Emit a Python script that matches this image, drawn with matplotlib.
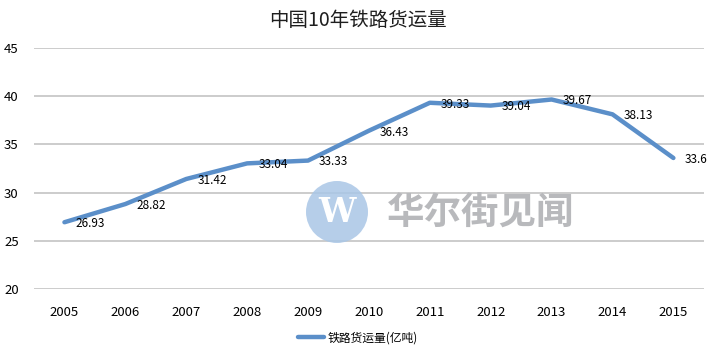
import matplotlib
matplotlib.use("Agg")
import matplotlib.pyplot as plt
from matplotlib.patches import Ellipse

plt.rcParams['font.family'] = ['Noto Sans CJK SC', 'DejaVu Sans']

years = ['2005', '2006', '2007', '2008', '2009', '2010', '2011', '2012', '2013', '2014', '2015']
freight = [26.93, 28.82, 31.42, 33.04, 33.33, 36.43, 39.33, 39.04, 39.67, 38.13, 33.6]
labels = ['26.93', '28.82', '31.42', '33.04', '33.33', '36.43', '39.33', '39.04', '39.67', '38.13', '33.6']
series_name = '铁路货运量(亿吨)'
title = '中国10年铁路货运量'

fig = plt.figure(figsize=(7.16, 3.54), dpi=100)
ax = fig.add_axes([0.0475, 0.1836, 0.9355, 0.6804])

# watermark
fig.patches.append(Ellipse((337 / 716, 1 - 212 / 354), 62 / 716, 62 / 354, transform=fig.transFigure,
                           facecolor='#a9c6e6', edgecolor='none', alpha=0.85, zorder=0))
fig.text(337 / 716, 1 - 213 / 354, 'W', fontsize=24, color='white', ha='center', va='center',
         fontweight='bold', family='DejaVu Serif', zorder=1)
fig.text(481 / 716, 1 - 213 / 354, '华尔街见闻', fontsize=27, color='#b8b9bc', ha='center',
         va='center', fontweight='bold', zorder=1)

x = list(range(len(years)))
line, = ax.plot(x, freight, color='#5b8fc9', linewidth=3.2, solid_joinstyle='round',
                solid_capstyle='round', label=series_name, zorder=3)
for xi, yi, lab in zip(x, freight, labels):
    ax.annotate(lab, (xi, yi), xytext=(8, -1), textcoords='offset points', ha='left',
                va='center', fontsize=8.5, color='black', zorder=4)

ax.set_xlim(-0.5, len(years) - 0.5)
ax.set_ylim(20, 45)
ax.set_yticks([20, 25, 30, 35, 40, 45])
ax.set_xticks(x)
ax.set_xticklabels(years)
ax.yaxis.grid(True, color='#c8c8c8', linewidth=1.3)
ax.set_axisbelow(True)
ax.patch.set_alpha(0)
for s in ax.spines.values():
    s.set_visible(False)
ax.tick_params(axis='both', length=0, labelsize=9.5, colors='black')
ax.tick_params(axis='x', pad=12)
ax.tick_params(axis='y', pad=11)

fig.text(0.5, 1 - 20 / 354, title, ha='center', va='center', fontsize=14, color='#1e1e1e')

fig.legend(handles=[line], loc='center', bbox_to_anchor=(0.5, 1 - 338 / 354), frameon=False,
           fontsize=8.5, handlelength=2.2, handletextpad=0.3)

fig.savefig('out.png', dpi=100, facecolor='white')
